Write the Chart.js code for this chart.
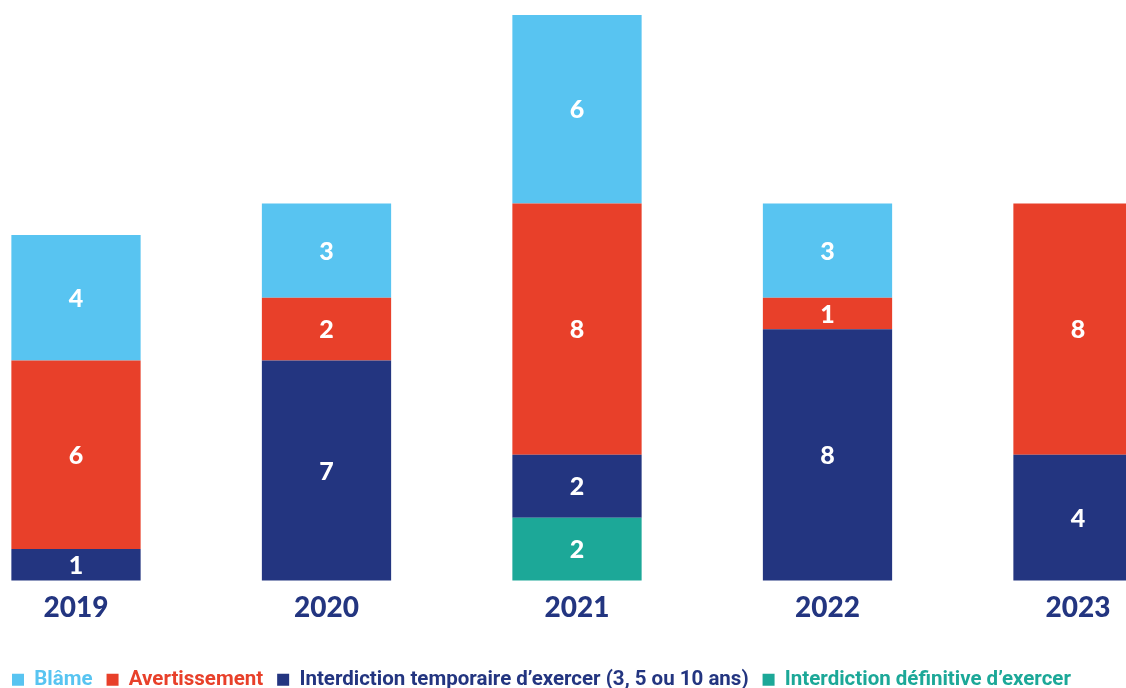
<!DOCTYPE html>
<html>
<head>
<meta charset="utf-8">
<script src="https://cdn.jsdelivr.net/npm/chart.js@4/dist/chart.umd.min.js"></script>
<style>
  html, body { margin: 0; padding: 0; background: #fff; overflow: hidden; width: 1126px; height: 688px; }
  #wrap { position: absolute; left: -2px; top: 0; width: 1128px; height: 700px; }
</style>
</head>
<body>
<div id="wrap"><canvas id="sanctionsChart"></canvas></div>
<script>
const years = ['2019', '2020', '2021', '2022', '2023'];

// stacked bottom to top
const definitive = [0, 0, 2, 0, 0];
const temporaire = [1, 7, 2, 8, 4];
const avertissement = [6, 2, 8, 1, 8];
const blame = [4, 3, 6, 3, 0];

const navy = '#233580';

// white numbers in the middle of each segment
const segmentLabels = {
    id: 'segmentLabels',
    afterDatasetsDraw(chart) {
        const ctx = chart.ctx;
        ctx.save();
        ctx.fillStyle = '#fff';
        ctx.font = '900 25px Lato';
        ctx.textAlign = 'center';
        ctx.textBaseline = 'middle';
        chart.data.datasets.forEach((ds, i) => {
            chart.getDatasetMeta(i).data.forEach((bar, j) => {
                const v = ds.data[j];
                if (!v) return;
                ctx.fillText(v, bar.x, (bar.y + bar.base) / 2 + 1);
            });
        });
        ctx.restore();
    }
};

new Chart(document.getElementById('sanctionsChart'), {
    type: 'bar',
    data: {
        labels: years,
        datasets: [
            { label: 'Interdiction définitive d\u2019exercer', data: definitive, backgroundColor: '#1CA898' },
            { label: 'Interdiction temporaire d\u2019exercer (3, 5 ou 10 ans)', data: temporaire, backgroundColor: navy },
            { label: 'Avertissement', data: avertissement, backgroundColor: '#E8402A' },
            { label: 'Blâme', data: blame, backgroundColor: '#58C4F1' }
        ]
    },
    options: {
        responsive: true,
        maintainAspectRatio: false,
        animation: false,
        layout: { padding: { top: 15, left: 0, right: 0, bottom: 0 } },
        datasets: {
            bar: { categoryPercentage: 1, barPercentage: 0.516, borderWidth: 0, clip: false }
        },
        scales: {
            x: {
                stacked: true,
                offset: false,
                grid: { display: false, drawTicks: false },
                border: { display: false },
                ticks: {
                    color: navy,
                    padding: 11,
                    font: { family: 'Lato', size: 28, weight: '900' }
                },
                afterFit: s => { s.height = 75; }
            },
            y: {
                stacked: true,
                min: 0,
                max: 18,
                grid: { display: false, drawTicks: false },
                border: { display: false },
                ticks: { display: false },
                afterFit: s => { s.width = 78; }
            },
            yRight: {
                position: 'right',
                min: 0,
                max: 1,
                grid: { display: false, drawTicks: false },
                border: { display: false },
                ticks: { display: false },
                afterFit: s => { s.width = 48; }
            }
        },
        plugins: {
            tooltip: { enabled: false },
            legend: {
                position: 'bottom',
                align: 'start',
                reverse: true,
                labels: {
                    boxWidth: 12,
                    boxHeight: 12,
                    padding: 14,
                    font: { family: 'Roboto', size: 20.5, weight: 'bold' },
                    generateLabels(chart) {
                        const items = Chart.defaults.plugins.legend.labels.generateLabels(chart);
                        items.forEach(it => { it.fontColor = it.fillStyle; });
                        return items;
                    }
                }
            }
        }
    },
    plugins: [segmentLabels]
});
</script>
</body>
</html>
